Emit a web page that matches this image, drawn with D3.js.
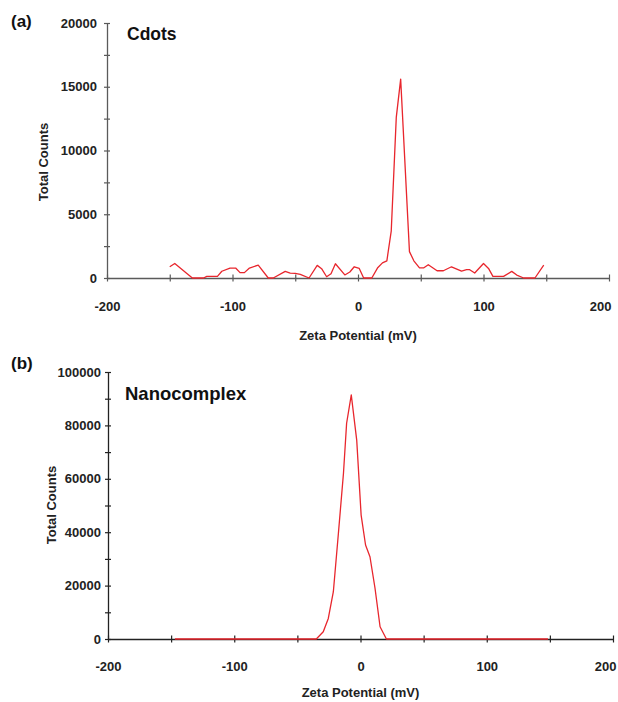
<!DOCTYPE html>
<html>
<head>
<meta charset="utf-8">
<script src="https://cdn.jsdelivr.net/npm/d3@7"></script>
<style>
  body { margin: 0; background: #fff; }
  svg text { font-family: "Liberation Sans", Arial, sans-serif; font-weight: bold; }
</style>
</head>
<body>
<svg id="chart" width="618" height="702"></svg>
<script>
// panel (a) Cdots
const cdotsZeta = [-150, -146, -132, -123, -120.5, -112, -108.5, -102, -97.5, -94, -90.5, -86.5, -79.5, -71.5, -67.5,
  -58, -54, -50, -46, -39, -32.5, -29, -25, -21.5, -18, -10.5, -6.5, -3, 1, 4.5, 11, 15.5, 19.5, 23, 26.5, 30.5,
  34, 41, 44.5, 49, 52.5, 56, 63, 68, 74.5, 82.5, 86.5, 89, 93, 100, 104, 107.5, 116, 122.5, 126.5, 132, 141, 148];
const cdotsCounts = [880, 1140, 0, 0, 130, 130, 530, 780, 780, 420, 420, 780, 1010, 0, 0,
  520, 390, 360, 290, 0, 990, 730, 100, 340, 1120, 240, 470, 880, 750, 0, 0, 780, 1190, 1350, 3700, 12600,
  15600, 2070, 1350, 800, 800, 1040, 570, 570, 880, 545, 650, 650, 390, 1140, 750, 130, 130, 520, 230, 0, 0, 1010];

// panel (b) Nanocomplex
const nanoZeta = [-147, -35, -29.5, -25.5, -21.5, -17.5, -13.5, -11, -7.3, -3, 0.5, 4, 7.5, 11.5, 15.5, 20.5, 148.5];
const nanoCounts = [0, 0, 2700, 7700, 17700, 39600, 62000, 80800, 91400, 74500, 46400, 35200, 30800, 19000, 4600, 0, 0];

const xTicks = [-200, -150, -100, -50, 0, 50, 100, 150, 200];
const xLabels = [-200, -100, 0, 100, 200];
const yTicksA = [0, 2500, 5000, 7500, 10000, 12500, 15000, 17500, 20000];
const yLabelsA = [0, 5000, 10000, 15000, 20000];
const yTicksB = [0, 10000, 20000, 30000, 40000, 50000, 60000, 70000, 80000, 90000, 100000];
const yLabelsB = [0, 20000, 40000, 60000, 80000, 100000];

const svg = d3.select("#chart");

function drawPanel(p) {
  const x = d3.scaleLinear().domain([-200, 200]).range(p.xRange);
  const y = d3.scaleLinear().domain(p.yDomain).range(p.yRange);
  const g = svg.append("g");

  // x axis, ticks cross the line
  const xa = g.append("g")
    .attr("transform", "translate(0," + p.yRange[0] + ")")
    .call(d3.axisBottom(x).tickValues(xTicks).tickSize(3.5).tickSizeOuter(0)
      .tickFormat(d => xLabels.includes(d) ? d : ""));
  xa.select(".domain").attr("stroke", p.axisColor).attr("stroke-width", 1.3);
  xa.selectAll(".tick line").attr("y1", -3.5).attr("stroke", p.axisColor).attr("stroke-width", 1.2);
  xa.selectAll(".tick text").attr("y", p.xLabelY).attr("dy", 0)
    .attr("font-size", 13).attr("fill", "#222");
  // last label pulled in so it stays on the page, like the original
  xa.selectAll(".tick text").filter(d => d === 200)
    .attr("text-anchor", "end").attr("x", p.lastLabelDx);

  // y axis
  const ya = g.append("g")
    .attr("transform", "translate(" + p.xRange[0] + ",0)")
    .call(d3.axisLeft(y).tickValues(p.yTicks).tickSize(3).tickSizeOuter(0)
      .tickFormat(d => p.yLabels.includes(d) ? d : ""));
  ya.select(".domain").attr("stroke", p.axisColor).attr("stroke-width", 1.3);
  ya.selectAll(".tick line").attr("x1", 3).attr("stroke", p.axisColor).attr("stroke-width", 1.2);
  ya.selectAll(".tick text").attr("x", -p.yLabelGap).attr("font-size", 13).attr("fill", "#222");

  // data line
  const data = p.zeta.map((z, i) => [z, p.counts[i]]);
  g.append("path")
    .datum(data)
    .attr("fill", "none")
    .attr("stroke", "#e8262d")
    .attr("stroke-width", 1.3)
    .attr("stroke-linejoin", "round")
    .attr("d", d3.line().x(d => x(d[0])).y(d => y(d[1])));

  // axis titles
  g.append("text")
    .attr("x", x(0)).attr("y", p.xTitleY)
    .attr("text-anchor", "middle").attr("font-size", 13).attr("fill", "#222")
    .text("Zeta Potential (mV)");
  g.append("text")
    .attr("transform", "translate(" + p.yTitleX + "," + p.yTitleY + ") rotate(-90)")
    .attr("text-anchor", "middle").attr("font-size", 13).attr("fill", "#222")
    .text("Total Counts");

  // panel letter and sample name
  g.append("text")
    .attr("x", 11).attr("y", p.letterY)
    .attr("font-family", "'Open Sans', sans-serif").attr("font-size", 17).attr("fill", "#111")
    .text(p.letter);
  g.append("text")
    .attr("x", p.nameX).attr("y", p.nameY)
    .attr("font-family", "'Open Sans', sans-serif").attr("font-size", p.nameSize).attr("fill", "#111")
    .text(p.name);
}

drawPanel({
  xRange: [107, 609], yDomain: [0, 20000], yRange: [278, 23],
  yTicks: yTicksA, yLabels: yLabelsA, axisColor: "#5a5a5a",
  zeta: cdotsZeta, counts: cdotsCounts,
  xLabelY: 33, lastLabelDx: 2, yLabelGap: 10, xTitleY: 340, yTitleX: 48, yTitleY: 162,
  letter: "(a)", letterY: 27, name: "Cdots", nameX: 127, nameY: 40, nameSize: 17.5
});

drawPanel({
  xRange: [108, 613], yDomain: [0, 100000], yRange: [639, 372],
  yTicks: yTicksB, yLabels: yLabelsB, axisColor: "#222",
  zeta: nanoZeta, counts: nanoCounts,
  xLabelY: 32, lastLabelDx: 3, yLabelGap: 7, xTitleY: 697, yTitleX: 56, yTitleY: 505,
  letter: "(b)", letterY: 369, name: "Nanocomplex", nameX: 125, nameY: 400, nameSize: 18.5
});
</script>
</body>
</html>
